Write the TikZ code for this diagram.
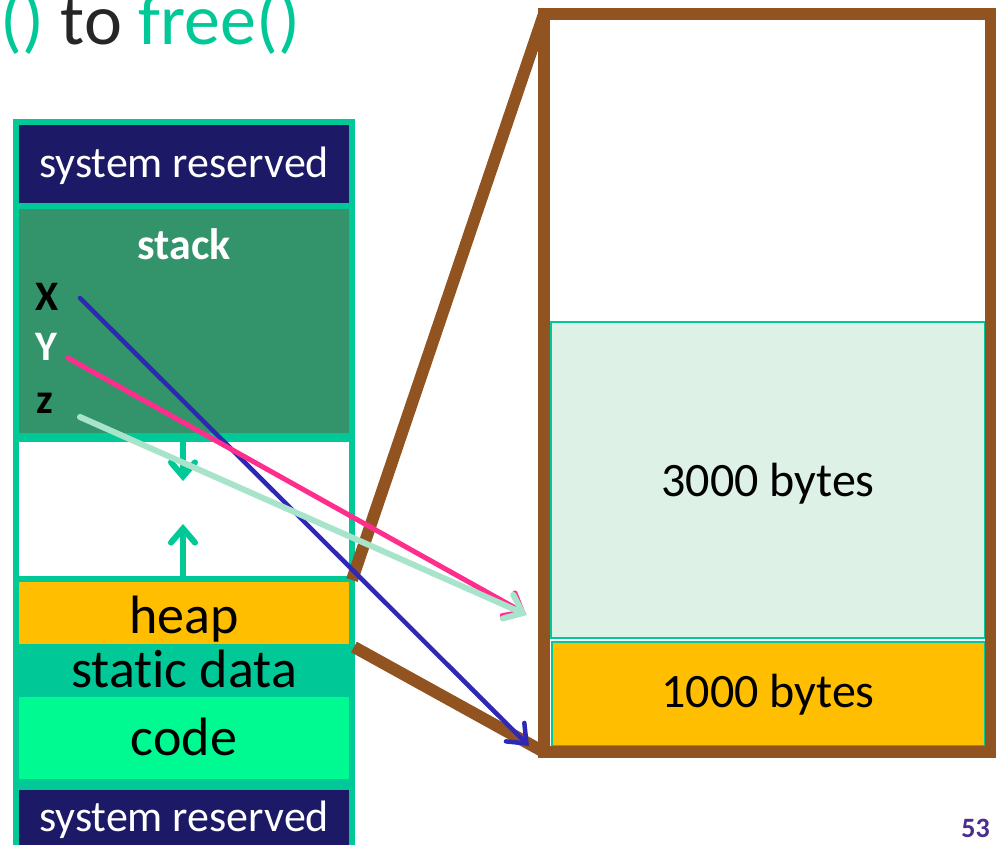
\documentclass[tikz,border=0pt]{standalone}
\usepackage{fontspec}
\setmainfont{Carlito}[Ligatures=NoCommon]
\usetikzlibrary{arrows.meta}
\definecolor{tealc}{RGB}{0,200,150}
\definecolor{navy}{RGB}{28,25,102}
\definecolor{stackg}{RGB}{51,148,107}
\definecolor{heapo}{RGB}{255,191,0}
\definecolor{codeg}{RGB}{0,250,146}
\definecolor{brownc}{RGB}{145,83,31}
\definecolor{mint}{RGB}{221,241,231}
\definecolor{xblue}{RGB}{46,40,180}
\definecolor{ypink}{RGB}{255,45,140}
\definecolor{zgreen}{RGB}{168,228,204}
\definecolor{titledark}{RGB}{38,38,38}
\definecolor{pagenum}{RGB}{75,45,143}
\tikzset{
  lbl/.style={inner sep=0pt, anchor=base},
  ptr/.style={line cap=round, -{Straight Barb[length=16pt,width=26pt,line cap=round]}},
  growth/.style={tealc, line width=6pt, line cap=round, -{Straight Barb[length=14pt,width=24pt,line cap=round]}},
  zoomline/.style={brownc, line width=12pt}
}
\begin{document}
\begin{tikzpicture}[x=1pt,y=-1pt]
\useasboundingbox (0,0) rectangle (996,845);

% title
\node[lbl, anchor=base east, font=\fontsize{72}{74}\selectfont] (title) at (300,45)
  {\textcolor{tealc}{()} \textcolor{titledark}{to} \textcolor{tealc}{free()}};

% memory layout column
\fill[tealc] (13,119) rectangle (355,850);
\fill[navy]   (19,125) rectangle (349,203);
\fill[stackg] (19,209) rectangle (349,433);
\fill[white]  (19,442) rectangle (349,576);
\fill[heapo]  (19,582) rectangle (349,644);
\fill[codeg]  (19,697) rectangle (349,779);
\fill[navy]   (19,790) rectangle (349,850);

\node[lbl, white, font=\fontsize{44}{46}\selectfont] (sysTop) at (184,178) {system reserved};
\node[lbl, white, font=\fontsize{44}{46}\selectfont\bfseries] (stack) at (184,259) {stack};
\node[lbl, black, font=\fontsize{42}{44}\selectfont\bfseries] (vx) at (47,310) {X};
\node[lbl, white, font=\fontsize{42}{44}\selectfont\bfseries] (vy) at (46,360) {Y};
\node[lbl, black, font=\fontsize{42}{44}\selectfont\bfseries] (vz) at (45,413) {z};
\node[lbl, black, font=\fontsize{54}{56}\selectfont] (heap) at (184,633) {heap};
\node[lbl, black, font=\fontsize{54}{56}\selectfont] (static) at (184,687) {static data};
\node[lbl, black, font=\fontsize{54}{56}\selectfont] (code) at (184,755) {code};
\node[lbl, white, font=\fontsize{44}{46}\selectfont] (sysBot) at (184,831) {system reserved};

% growth arrows of stack and heap
\coordinate (stackEnd) at (183,436);
\coordinate (stackTip) at (183,481);
\coordinate (heapEnd) at (183,578);
\coordinate (heapTip) at (183,524);
\draw[growth] (stackEnd) -- (stackTip);
\draw[growth] (heapEnd) -- (heapTip);

% zoomed heap block
\fill[white] (544,14) rectangle (991,752);
\draw[tealc, line width=2pt, fill=mint] (551,322) rectangle (985,638);
\draw[tealc, line width=2pt, fill=heapo] (552,642) rectangle (985,746);
\node[lbl, black, font=\fontsize{48}{50}\selectfont] (b3000) at (768,496) {3000 bytes};
\node[lbl, black, font=\fontsize{48}{50}\selectfont] (b1000) at (768,707) {1000 bytes};
\draw[zoomline, line join=miter] (544,14) rectangle (991,752);
\coordinate (zTL) at (544,14);
\coordinate (zBL) at (544,752);
\coordinate (hTR) at (352,580);
\coordinate (hBR) at (354,647);
\draw[zoomline] (hTR) -- (zTL);
\draw[zoomline] (hBR) -- (zBL);

% pointers from stack variables
\coordinate (xs) at (80,298);
\coordinate (ys) at (68,358);
\coordinate (zs) at (80,417);
\coordinate (xt) at (529,746);
\coordinate (yt) at (526,614);
\coordinate (zt) at (527,615);
\draw[ptr, xblue, line width=4.5pt] (xs) -- (xt);
\draw[ptr, ypink, line width=5pt] (ys) -- (yt);
\draw[ptr, zgreen, line width=6pt] (zs) -- (zt);

% page number
\node[lbl, anchor=base east, pagenum, font=\fontsize{28}{30}\selectfont\bfseries] (pg) at (990,837) {53};
\end{tikzpicture}
\end{document}
